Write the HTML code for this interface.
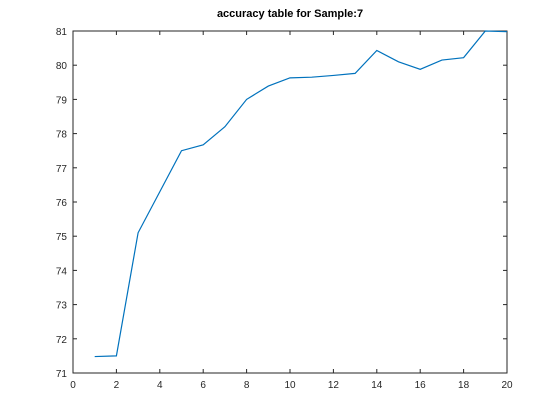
<!DOCTYPE html>
<html><head><meta charset="utf-8"><style>
html,body{margin:0;padding:0;background:#fff;width:560px;height:420px;overflow:hidden}
svg text{font-family:"Liberation Sans",sans-serif}
</style></head><body>
<svg id="chart" width="560" height="420">
<rect x="0" y="0" width="560" height="420" fill="#fff"/>
<text x="290" y="17" text-anchor="middle" font-size="11" font-weight="bold" fill="#000">accuracy table for Sample:7</text>
<g id="axes"></g>
<polyline id="line" fill="none" stroke="#0072BD" stroke-width="1.2"/>
</svg>
<script>
const xs = [1,2,3,4,5,6,7,8,9,10,11,12,13,14,15,16,17,18,19,20];
const acc = [71.48,71.5,75.1,76.3,77.5,77.67,78.2,79.0,79.39,79.63,79.65,79.7,79.76,80.43,80.1,79.88,80.15,80.22,81.0,80.98];
const xTicks = [0,2,4,6,8,10,12,14,16,18,20];
const yTicks = [71,72,73,74,75,76,77,78,79,80,81];
const L=73,R=507,T=31,B=373;
const sx=v=>L+(v-0)/(20-0)*(R-L);
const sy=v=>B-(v-71)/(81-71)*(B-T);
const NS='http://www.w3.org/2000/svg';
const g=document.getElementById('axes');
function mk(tag,attrs){const e=document.createElementNS(NS,tag);for(const k in attrs)e.setAttribute(k,attrs[k]);return e;}
const box=mk('rect',{x:L,y:T,width:R-L,height:B-T,fill:'none',stroke:'#262626','stroke-width':1});


g.appendChild(box);
xTicks.forEach(t=>{
  const x=sx(t);
  const a=mk('line',{x1:x,x2:x,y1:B,y2:B-4,stroke:'#262626'});
  
  
  g.appendChild(a);
  const b=mk('line',{x1:x,x2:x,y1:T,y2:T+4,stroke:'#262626'});
  
  
  g.appendChild(b);
  const tx=mk('text',{x:x,y:B+15,'text-anchor':'middle','font-size':10,fill:'#262626'});
  tx.textContent=t;
  
  
  g.appendChild(tx);
});
yTicks.forEach(t=>{
  const y=sy(t);
  const a=mk('line',{x1:L,x2:L+4,y1:y,y2:y,stroke:'#262626'});
  
  
  g.appendChild(a);
  const b=mk('line',{x1:R,x2:R-4,y1:y,y2:y,stroke:'#262626'});
  
  
  g.appendChild(b);
  const tx=mk('text',{x:L-6,y:y+4,'text-anchor':'end','font-size':10,fill:'#262626'});
  tx.textContent=t;
  
  
  g.appendChild(tx);
});
document.getElementById('line').setAttribute('points',xs.map((x,i)=>sx(x)+','+sy(acc[i])).join(' '));
</script>
</body></html>
